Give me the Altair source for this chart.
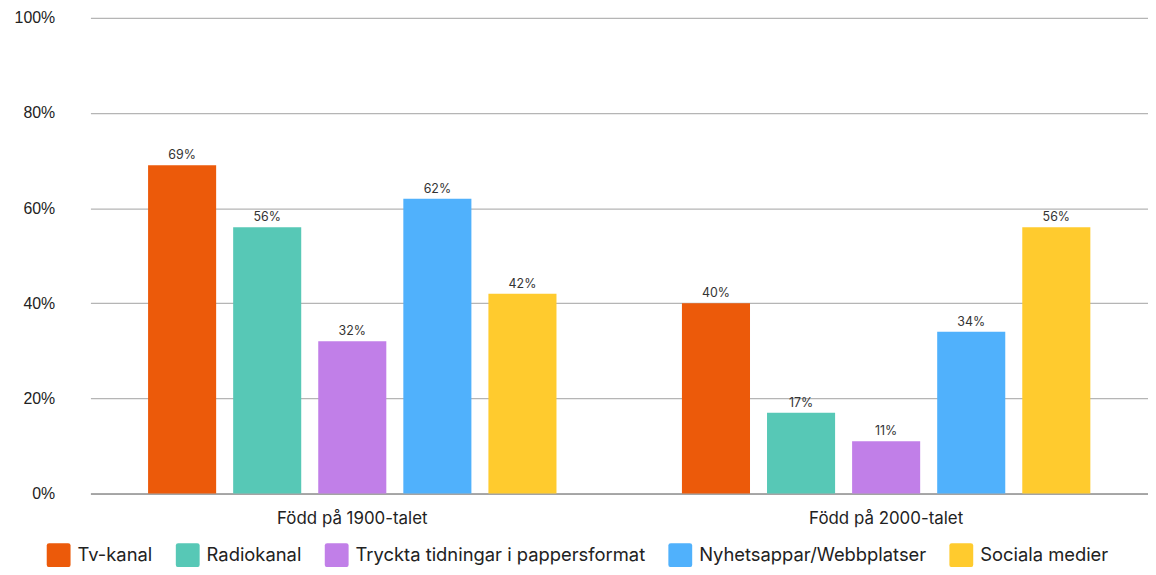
import altair as alt
import pandas as pd

groups = ["Född på 1900-talet", "Född på 2000-talet"]
series = ["Tv-kanal", "Radiokanal", "Tryckta tidningar i pappersformat",
          "Nyhetsappar/Webbplatser", "Sociala medier"]
colors = ["#EC5A0A", "#57C8B6", "#C17FE8", "#50B1FC", "#FFCB2E"]
values_1900 = [0.69, 0.56, 0.32, 0.62, 0.42]
values_2000 = [0.40, 0.17, 0.11, 0.34, 0.56]

rows = []
for g, vals in zip(groups, [values_1900, values_2000]):
    for s, v in zip(series, vals):
        rows.append({"group": g, "series": s, "value": v})
df = pd.DataFrame(rows)

FONT = "Inter"
rounded = "M -0.8,-1 L 0.8,-1 Q 1,-1 1,-0.8 L 1,0.8 Q 1,1 0.8,1 L -0.8,1 Q -1,1 -1,0.8 L -1,-0.8 Q -1,-1 -0.8,-1 Z"

x = alt.X("group:N", sort=groups, title=None,
          scale=alt.Scale(paddingInner=0.235, paddingOuter=0.108),
          axis=alt.Axis(labelAngle=0, labelFont=FONT, labelFontSize=17, labelColor="#222",
                        labelPadding=17, ticks=False, domainColor="#999", domainWidth=1.5))
xoff = alt.XOffset("series:N", sort=series,
                   scale=alt.Scale(paddingInner=0.2, paddingOuter=0))
y = alt.Y("value:Q", title=None,
          scale=alt.Scale(domain=[0, 1]),
          axis=alt.Axis(format=".0%", values=[0, 0.2, 0.4, 0.6, 0.8, 1.0],
                        labelFont="Liberation Sans", labelFontSize=16, labelColor="#222",
                        labelPadding=36, ticks=False, domain=False,
                        gridColor="#b5b5b5", gridWidth=1.2))

bars = alt.Chart(df).mark_bar().encode(
    x=x, xOffset=xoff, y=y,
    color=alt.Color("series:N", sort=series,
                    scale=alt.Scale(domain=series, range=colors),
                    legend=alt.Legend(title=None, orient="none", direction="horizontal",
                                      legendX=-44, legendY=529, columns=5,
                                      symbolType=rounded, symbolSize=576, symbolStrokeWidth=0,
                                      labelFont=FONT, labelFontSize=18.5, labelColor="#222",
                                      labelOffset=7, columnPadding=23, labelLimit=400))
)

labels = alt.Chart(df).mark_text(baseline="bottom", dy=-3, font=FONT, fontSize=12.5,
                                 color="#333").encode(
    x=x, xOffset=xoff, y=y,
    text=alt.Text("value:Q", format=".0%")
)

chart = alt.layer(bars, labels).properties(
    width=1065, height=479,
    autosize=alt.AutoSizeParams(type="none"),
    padding={"left": 83, "top": 8, "right": 0, "bottom": 72},
).configure_view(stroke=None)

chart.save("out.html", embed_options={"renderer": "svg", "actions": False})
